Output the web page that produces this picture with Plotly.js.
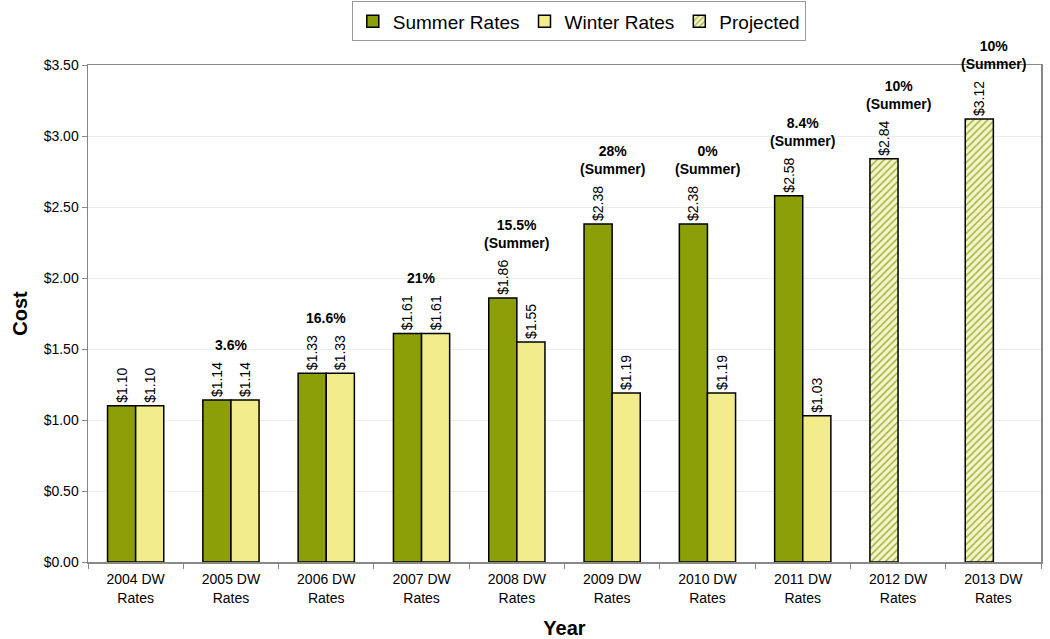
<!DOCTYPE html>
<html>
<head>
<meta charset="utf-8">
<script src="https://cdn.plot.ly/plotly-3.0.1.min.js"></script>
<style>html,body{margin:0;padding:0;background:#fff;}#chart{width:1050px;height:639px;}</style>
</head>
<body>
<div id="chart"></div>
<script>
const categories = ["2004 DW<br>Rates","2005 DW<br>Rates","2006 DW<br>Rates","2007 DW<br>Rates","2008 DW<br>Rates","2009 DW<br>Rates","2010 DW<br>Rates","2011 DW<br>Rates","2012 DW<br>Rates","2013 DW<br>Rates"];
const summerRates = [1.10,1.14,1.33,1.61,1.86,2.38,2.38,2.58,null,null];
const winterRates = [1.10,1.14,1.33,1.61,1.55,1.19,1.19,1.03,null,null];
const projected = [null,null,null,null,null,null,null,null,2.84,3.12];
const increaseLabels = ["","3.6%","16.6%","21%","15.5%<br>(Summer)","28%<br>(Summer)","0%<br>(Summer)","8.4%<br>(Summer)","10%<br>(Summer)","10%<br>(Summer)"];

const FONT = "Liberation Sans, Arial, sans-serif";
const olive = "#8c9e08";
const yellow = "#f2ec8c";

const common = {
  type: "bar",
  x: categories,
  textposition: "outside",
  textangle: -90,
  constraintext: "none",
  texttemplate: "$%{y:.2f}",
  textfont: {family: FONT, size: 14, color: "#000"},
  cliponaxis: false,
  hoverinfo: "x+y"
};

const traces = [
  Object.assign({}, common, {name: "Summer Rates", y: summerRates, offsetgroup: "a",
    marker: {color: olive, line: {color: "#000", width: 1.5}}}),
  Object.assign({}, common, {name: "Winter Rates", y: winterRates, offsetgroup: "b",
    marker: {color: yellow, line: {color: "#000", width: 1.5}}}),
  Object.assign({}, common, {name: "Projected", y: projected, offsetgroup: "a",
    marker: {color: "#f4f4c8", line: {color: "#000", width: 1.5},
      pattern: {shape: "/", fgcolor: "#a3b43c", bgcolor: "#f4f4cc", size: 5, solidity: 0.3}}})
];

const annotations = categories.map((c, i) => {
  const vals = [summerRates[i], winterRates[i], projected[i]].filter(v => v !== null);
  const top = Math.max.apply(null, vals);
  return {
    x: c, y: top, xref: "x", yref: "y",
    text: "<b>" + increaseLabels[i].replace("<br>", "</b><br><b>") + "</b>",
    showarrow: false, yanchor: "bottom", yshift: 45,
    font: {family: FONT, size: 14, color: "#000"},
    align: "center"
  };
}).filter((a, i) => increaseLabels[i] !== "");

const layout = {
  width: 1050, height: 639,
  margin: {l: 88, r: 9, t: 65, b: 77},
  paper_bgcolor: "#fff", plot_bgcolor: "#fff",
  font: {family: FONT, color: "#000"},
  barmode: "group",
  bargap: 0.41,
  bargroupgap: 0,
  showlegend: true,
  legend: {
    orientation: "h", x: 0.515, xanchor: "center", y: 0.998, yref: "container", yanchor: "top",
    font: {family: FONT, size: 19, color: "#000"},
    bordercolor: "#999", borderwidth: 1, bgcolor: "#fff",
    traceorder: "normal", itemwidth: 30, tracegroupgap: 0
  },
  xaxis: {
    type: "category",
    tickfont: {family: FONT, size: 14, color: "#000"},
    showline: true, linecolor: "#888", linewidth: 1.5,
    ticks: "outside", tickson: "boundaries", ticklen: 5, tickcolor: "#888",
    ticklabelstandoff: 4,
    mirror: true,
    title: {text: "<b>Year</b>", font: {family: FONT, size: 20, color: "#000"}, standoff: 18}
  },
  yaxis: {
    range: [0, 3.5],
    dtick: 0.5,
    tickformat: "$.2f",
    tickfont: {family: FONT, size: 14, color: "#000"},
    showline: true, linecolor: "#888", linewidth: 1.5,
    ticks: "outside", ticklen: 5, tickcolor: "#888",
    mirror: true,
    gridcolor: "#ececec", gridwidth: 1,
    zeroline: false,
    title: {text: "<b>Cost</b>", font: {family: FONT, size: 20, color: "#000"}, standoff: 10}
  },
  annotations: annotations
};

Plotly.newPlot("chart", traces, layout, {displayModeBar: false, staticPlot: true});
</script>
</body>
</html>
